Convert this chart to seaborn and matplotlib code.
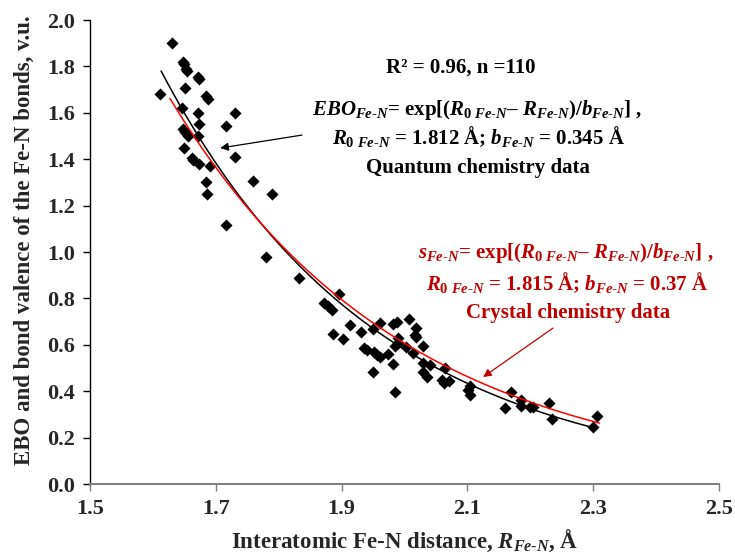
import numpy as np
import pandas as pd
import matplotlib
matplotlib.use("Agg")
import matplotlib.pyplot as plt
import seaborn as sns

# ---- data ----
distance = [1.611, 1.630, 1.648, 1.650, 1.652, 1.655, 1.672, 1.674, 1.651, 1.685,
            1.687, 1.647, 1.672, 1.730, 1.716, 1.674, 1.648, 1.651, 1.654, 1.656,
            1.672, 1.650, 1.662, 1.664, 1.674, 1.691, 1.730, 1.685, 1.759, 1.686,
            1.790, 1.716, 1.780,
            1.833, 1.896, 1.872, 1.878, 1.884, 1.913, 1.886, 1.902, 1.931, 1.950,
            1.961, 1.982, 1.988, 2.007, 2.019, 2.017, 2.019, 1.989, 1.985, 1.989,
            2.002, 2.013, 2.030, 1.936, 1.941, 1.952, 1.957, 1.961, 1.974, 1.982,
            1.950, 1.985, 2.030, 2.041, 2.030, 2.035, 2.064, 2.059, 2.063, 2.070,
            2.101, 2.104, 2.104, 2.170, 2.160, 2.186, 2.186, 2.200, 2.205, 2.229,
            2.234, 2.306, 2.300]
ebo = [1.680, 1.900, 1.820, 1.810, 1.790, 1.780, 1.755, 1.745, 1.705, 1.672,
       1.660, 1.620, 1.600, 1.598, 1.545, 1.550, 1.530, 1.518, 1.510, 1.500,
       1.500, 1.450, 1.407, 1.397, 1.380, 1.370, 1.408, 1.303, 1.307, 1.249,
       1.249, 1.116, 0.977,
       0.887, 0.818, 0.781, 0.767, 0.750, 0.685, 0.647, 0.626, 0.656, 0.667,
       0.693, 0.690, 0.700, 0.712, 0.671, 0.642, 0.635, 0.628, 0.595, 0.606,
       0.592, 0.566, 0.595, 0.588, 0.578, 0.570, 0.556, 0.549, 0.559, 0.517,
       0.484, 0.395, 0.523, 0.513, 0.484, 0.462, 0.499, 0.448, 0.434, 0.444,
       0.405, 0.384, 0.422, 0.398, 0.326, 0.362, 0.336, 0.333, 0.331, 0.350,
       0.279, 0.294, 0.247]

# fitted curve parameters (from the chart's equations)
R0_quantum, b_quantum = 1.812, 0.345
R0_crystal, b_crystal = 1.815, 0.37
range_quantum = [1.613, 2.300]
range_crystal = [1.627, 2.310]

x_ticks = [1.5, 1.7, 1.9, 2.1, 2.3, 2.5]
y_ticks = [0.0, 0.2, 0.4, 0.6, 0.8, 1.0, 1.2, 1.4, 1.6, 1.8, 2.0]

# ---- style ----
sns.set_style("white")
plt.rcParams['font.family'] = ['Liberation Serif', 'DejaVu Serif']
plt.rcParams['font.weight'] = 'bold'
plt.rcParams['mathtext.fontset'] = 'custom'
plt.rcParams['mathtext.rm'] = 'Liberation Serif:bold'
plt.rcParams['mathtext.it'] = 'Liberation Serif:italic:bold'
plt.rcParams['mathtext.bf'] = 'Liberation Serif:bold'

fig = plt.figure(figsize=(7.35, 5.55), dpi=100)
ax = fig.add_axes([90/735, 1-484/555, 629/735, 464/555])

df = pd.DataFrame({"R": distance, "EBO": ebo})
sns.scatterplot(data=df, x="R", y="EBO", marker="D", s=38, color="black",
                edgecolor="black", linewidth=0, ax=ax, zorder=3)

xq = np.linspace(range_quantum[0], range_quantum[1], 200)
xc = np.linspace(range_crystal[0], range_crystal[1], 200)
curves = pd.DataFrame({
    "R": np.concatenate([xq, xc]),
    "v": np.concatenate([np.exp((R0_quantum - xq) / b_quantum),
                         np.exp((R0_crystal - xc) / b_crystal)]),
    "fit": ["quantum"] * len(xq) + ["crystal"] * len(xc),
})
sns.lineplot(data=curves, x="R", y="v", hue="fit",
             palette={"quantum": "black", "crystal": "#ff0000"},
             linewidth=1.1, legend=False, ax=ax, zorder=4, sort=False)

ax.set_xlim(1.5, 2.5)
ax.set_ylim(0.0, 2.0)
ax.set_xticks(x_ticks)
ax.set_xticklabels([f"{v:.1f}" for v in x_ticks])
ax.set_yticks(y_ticks)
ax.set_yticklabels([f"{v:.1f}" for v in y_ticks])
for s in ["top", "right"]:
    ax.spines[s].set_visible(False)
ax.spines["left"].set_color("black")
ax.spines["left"].set_linewidth(1.0)
ax.spines["bottom"].set_color("#808080")
ax.spines["bottom"].set_linewidth(1.5)
ax.tick_params(axis="y", direction="out", length=5, width=1, color="black",
               labelsize=16, pad=6, left=True)
ax.tick_params(axis="x", direction="out", length=5, width=1, color="#808080",
               labelsize=16, pad=6, bottom=True)
for lab in ax.get_xticklabels() + ax.get_yticklabels():
    lab.set_fontweight("bold")

ax.set_xlabel(r"Interatomic Fe-N distance, $\mathit{R}_{\mathit{Fe‐N}}$, Å",
              fontsize=16.5, fontweight="bold", labelpad=6)
ax.set_ylabel("EBO and bond valence of the Fe-N bonds, v.u.",
              fontsize=16.5, fontweight="bold")
ax.yaxis.set_label_coords(-0.088, 0.525)

# annotations
tk = dict(transform=ax.transAxes, ha="center", va="center", fontsize=15,
          fontweight="bold")
ax.text(0.590, 0.897, "R² = 0.96, n =110", color="black", **tk)
ax.text(0.615, 0.806,
        r"$\mathit{EBO}_{\mathit{Fe‐N}}$= exp[($\mathit{R}_{\mathit{0\ Fe‐N}}$– $\mathit{R}_{\mathit{Fe‐N}}$)/$\mathit{b}_{\mathit{Fe‐N}}$] ,",
        color="black", **tk)
ax.text(0.617, 0.748,
        r"$\mathit{R}_{\mathit{0\ Fe‐N}}$ = 1.812 Å; $\mathit{b}_{\mathit{Fe‐N}}$ = 0.345 Å",
        color="black", **tk)
ax.text(0.617, 0.681, "Quantum chemistry data", color="black", **tk)

red = "#c00000"
ax.text(0.757, 0.498,
        r"$\mathit{s}_{\mathit{Fe‐N}}$= exp[($\mathit{R}_{\mathit{0\ Fe‐N}}$– $\mathit{R}_{\mathit{Fe‐N}}$)/$\mathit{b}_{\mathit{Fe‐N}}$] ,",
        color=red, **tk)
ax.text(0.759, 0.435,
        r"$\mathit{R}_{\mathit{0\ Fe‐N}}$ = 1.815 Å; $\mathit{b}_{\mathit{Fe‐N}}$ = 0.37 Å",
        color=red, **tk)
ax.text(0.760, 0.369, "Crystal chemistry data", color=red, **tk)

ax.annotate("", xy=(1.707, 1.448), xytext=(1.837, 1.504),
            arrowprops=dict(arrowstyle="-|>", color="black", lw=0.9,
                            mutation_scale=12, shrinkA=0, shrinkB=0))
ax.annotate("", xy=(2.125, 0.461), xytext=(2.236, 0.672),
            arrowprops=dict(arrowstyle="-|>", color=red, lw=0.9,
                            mutation_scale=12, shrinkA=0, shrinkB=0))

fig.savefig("out.png", dpi=100)
